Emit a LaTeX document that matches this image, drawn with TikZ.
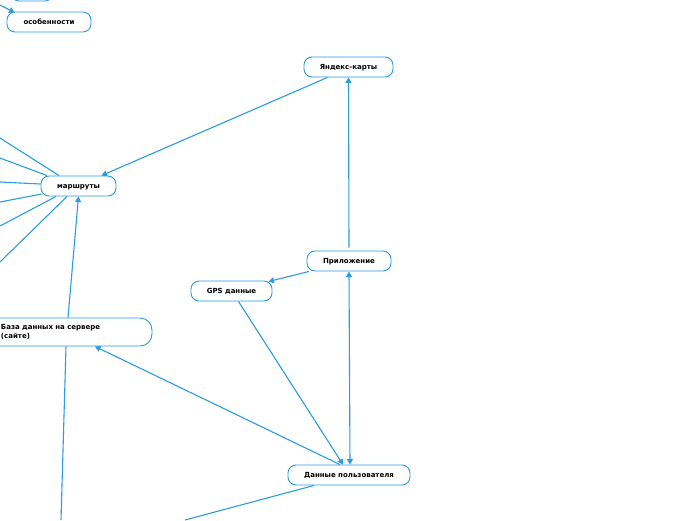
\documentclass[tikz,border=0pt]{standalone}
\usepackage{fontspec}
\setmainfont{DejaVu Sans}
\usetikzlibrary{arrows.meta}
\definecolor{lineblue}{HTML}{2B9BE2}
\tikzset{
 topic/.style={draw=lineblue, line width=0.9pt, rounded corners=8pt, minimum height=20pt, font=\bfseries\fontsize{7}{8.2}\selectfont, inner sep=2pt, text height=6.2pt, text depth=0.4pt, text=black, fill=white},
 conn/.style={draw=lineblue, line width=1.1pt},
 arr/.style={conn, -{Triangle[length=5.5pt,width=6pt]}},
 darr/.style={conn, {Triangle[length=5.5pt,width=6pt]}-{Triangle[length=5.5pt,width=6pt]}}
}
\begin{document}
\begin{tikzpicture}[x=1pt,y=-1pt]
\useasboundingbox (0,0) rectangle (696,520);
% nodes
\node[topic, minimum width=42pt] (tl) at (32,-9) {};
\node[topic, minimum width=84pt] (osob) at (49,22) {особенности};
\node[topic, minimum width=75pt] (marsh) at (78.5,186) {маршруты};
\node[topic, minimum width=89pt] (yandex) at (348.5,67) {Яндекс-карты};
\node[topic, minimum width=84pt] (app) at (349,261) {Приложение};
\node[topic, minimum width=81pt] (gps) at (231.5,291) {GPS данные};
\node[topic, minimum width=172pt, minimum height=28pt, text width=130pt, text height=, text depth=, align=left, rounded corners=12pt] (baza) at (66,332) {\raisebox{-3.5pt}{\parbox{130pt}{База данных на сервере\\(сайте)}}};
\node[topic, minimum width=122pt] (data) at (349,475) {Данные пользователя};
% free ends
\coordinate (e0) at (0,5);
\coordinate (m1) at (0,138);
\coordinate (m2) at (0,158);
\coordinate (m3) at (0,182);
\coordinate (m4) at (0,202);
\coordinate (m5) at (0,226);
\coordinate (m6) at (0,262);
\coordinate (b1) at (61,520);
\coordinate (d1) at (185,520);
% connectors
\draw[arr] (e0) -- ([shift={(8,1)}]osob.north west);
\draw[conn] ([shift={(-19.5,0)}]marsh.north) -- (m1);
\draw[conn] ([shift={(-31.5,0)}]marsh.north) -- (m2);
\draw[conn] ([shift={(0,-2)}]marsh.west) -- (m3);
\draw[conn] ([shift={(1,8)}]marsh.west) -- (m4);
\draw[conn] ([shift={(-22.5,0)}]marsh.south) -- (m5);
\draw[conn] ([shift={(-11.5,0)}]marsh.south) -- (m6);
\draw[arr] ([shift={(-21,0)}]yandex.south) -- ([shift={(23,0)}]marsh.north);
\draw[arr] ([shift={(0,-3)}]app.north) -- (yandex.south);
\draw[arr] ([shift={(-40,0)}]app.south) -- ([shift={(-4,1)}]gps.north east);
\draw[arr] ([shift={(7,0)}]gps.south) -- ([shift={(-6,0)}]data.north);
\draw[darr] (app.south) -- ([shift={(1,0)}]data.north);
\draw[arr] ([shift={(-9,0)}]data.north) -- ([shift={(29,0)}]baza.south);
\draw[arr] ([shift={(2,0)}]baza.north) -- (marsh.south);
\draw[conn] (baza.south) -- (b1);
\draw[conn] ([shift={(-35,0)}]data.south) -- (d1);
\end{tikzpicture}
\end{document}
